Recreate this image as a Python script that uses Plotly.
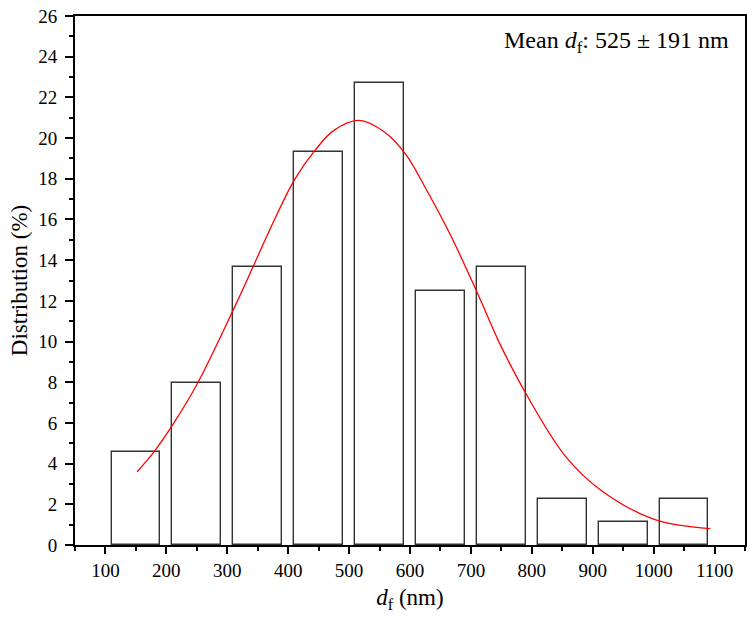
import plotly.graph_objects as go

# Histogram bins (centres, nm) and distribution (%)
bin_centers = [150, 250, 350, 450, 550, 650, 750, 850, 950, 1050]
distribution = [4.55, 7.95, 13.64, 19.32, 22.73, 12.50, 13.64, 2.27, 1.14, 2.27]

# Fitted curve, points
fit_x = [152, 179, 210, 251, 311, 341, 377, 410, 442, 475, 516, 558, 593, 629, 667, 711, 749, 793, 856, 914, 1001, 1093]
fit_y = [3.60, 4.55, 5.89, 7.94, 11.63, 13.59, 15.96, 17.93, 19.32, 20.38, 20.87, 20.30, 19.20, 17.35, 15.20, 12.36, 9.80, 7.30, 4.33, 2.68, 1.26, 0.80]

x_ticks = [100, 200, 300, 400, 500, 600, 700, 800, 900, 1000, 1100]
y_ticks = list(range(0, 27, 2))

FONT = "Liberation Serif, Times New Roman, serif"

fig = go.Figure()
fig.add_trace(go.Bar(
    x=bin_centers, y=distribution, width=80,
    marker=dict(color="white", line=dict(color="#333333", width=1.4)),
    showlegend=False, hoverinfo="x+y",
))
fig.add_trace(go.Scatter(
    x=fit_x, y=fit_y, mode="lines",
    line=dict(color="#ff0000", width=1.3, shape="spline", smoothing=1.0),
    showlegend=False,
))

axis_common = dict(
    showline=True, linecolor="black", linewidth=1.8, mirror=True,
    ticks="outside", tickcolor="black", tickwidth=1.5,
    showgrid=False, zeroline=False,
    tickfont=dict(family=FONT, size=19, color="black"),
)

fig.update_xaxes(
    range=[50, 1150], tickvals=x_ticks, ticklen=7,
    minor=dict(ticks="outside", ticklen=4, dtick=50, tick0=50, tickcolor="black", tickwidth=1.5),
    title=dict(text="<i>d</i><sub>f</sub> (nm)", font=dict(family=FONT, size=23, color="black"), standoff=9),
    **axis_common,
)
fig.update_yaxes(
    range=[0, 26], tickvals=y_ticks, ticklen=8,
    minor=dict(ticks="outside", ticklen=4, dtick=1, tick0=0, tickcolor="black", tickwidth=1.5),
    ticklabelstandoff=4,
    title=dict(text="Distribution (%)", font=dict(family=FONT, size=23, color="black"), standoff=4),
    **axis_common,
)

fig.add_annotation(
    xref="paper", yref="paper", x=0.979, y=0.951,
    xanchor="right", yanchor="middle", showarrow=False,
    text="Mean <i>d</i><sub>f</sub>: 525 ± 191 nm",
    font=dict(family=FONT, size=24, color="black"),
)

fig.update_layout(
    width=748, height=619,
    margin=dict(l=75, r=3, t=16, b=74, autoexpand=False),
    plot_bgcolor="white", paper_bgcolor="white",
    bargap=0,
)

fig.write_html(
    "out.html",
    config={"displayModeBar": False},
    post_script="document.body.style.margin='0';document.body.style.padding='0';document.body.style.overflow='hidden';",
)
